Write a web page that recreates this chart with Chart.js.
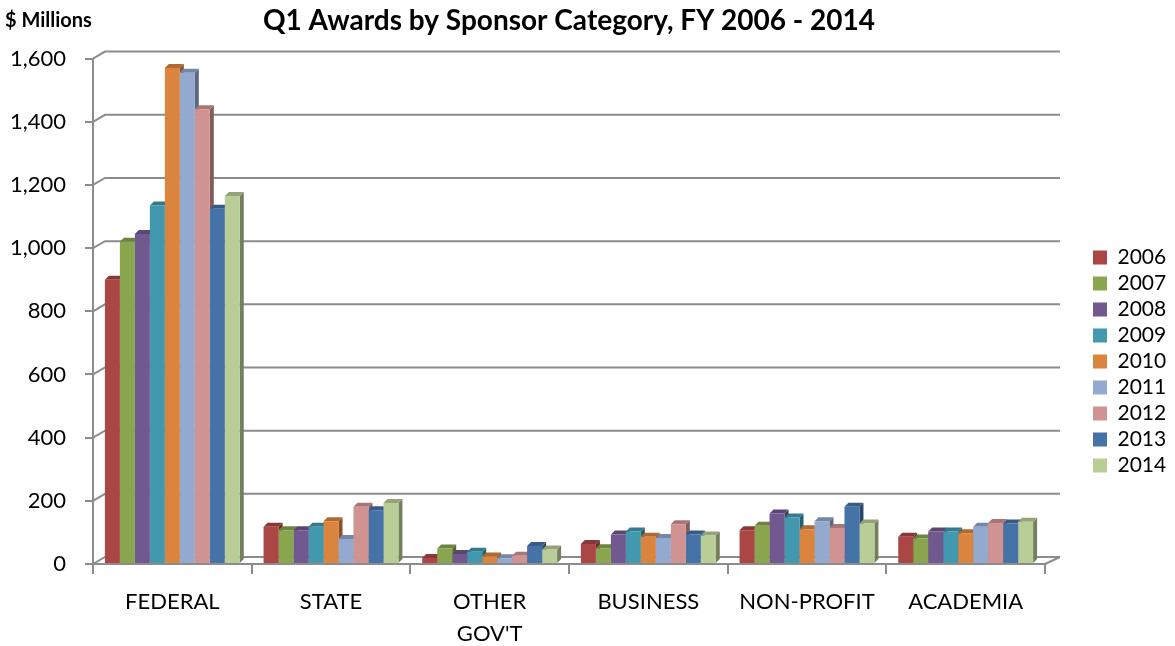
<!DOCTYPE html>
<html lang="en">
<head>
    <meta charset="UTF-8">
    <title>Q1 Awards by Sponsor Category</title>
    <script src="https://cdn.jsdelivr.net/npm/chart.js"></script>
    <style>
        body {
            margin: 0;
            background-color: #ffffff;
        }
        .chart-box {
            width: 1175px;
            height: 646px;
        }
    </style>
</head>
<body>
    <div class="chart-box">
        <canvas id="awardsChart"></canvas>
    </div>

    <script>
        const categories = ['FEDERAL', 'STATE', ['OTHER', "GOV'T"], 'BUSINESS', 'NON-PROFIT', 'ACADEMIA'];
        const years = ['2006', '2007', '2008', '2009', '2010', '2011', '2012', '2013', '2014'];
        const yTicks = [0, 200, 400, 600, 800, 1000, 1200, 1400, 1600];

        // $ millions, one array per fiscal year (same order as categories)
        const fy2006 = [900, 118, 19, 63, 107, 86];
        const fy2007 = [1020, 107, 49, 50, 121, 81];
        const fy2008 = [1045, 107, 32, 93, 160, 103];
        const fy2009 = [1135, 118, 39, 103, 147, 103];
        const fy2010 = [1570, 135, 24, 86, 110, 97];
        const fy2011 = [1555, 79, 18, 82, 135, 118];
        const fy2012 = [1440, 181, 26, 126, 114, 130];
        const fy2013 = [1125, 170, 57, 93, 181, 128];
        const fy2014 = [1165, 193, 46, 90, 128, 134];

        const yearValues = [fy2006, fy2007, fy2008, fy2009, fy2010, fy2011, fy2012, fy2013, fy2014];
        const yearColors = ['#AA4643', '#89A54E', '#71588F', '#4198AF', '#DB843D', '#93A9CF', '#D19392', '#4572A7', '#B9CD96'];

        const DX = 12, DY = 7;     // offset of the back wall
        const BX = 4, BY = 4;      // depth of each column
        const GRID = '#8c8c8c';

        function shade(hex, f) {
            const n = parseInt(hex.slice(1), 16);
            const r = Math.round(((n >> 16) & 255) * f);
            const g = Math.round(((n >> 8) & 255) * f);
            const b = Math.round((n & 255) * f);
            return 'rgb(' + r + ',' + g + ',' + b + ')';
        }

        // back wall gridlines + floor edge
        const wallPlugin = {
            id: 'wall3d',
            beforeDatasetsDraw(chart) {
                const ctx = chart.ctx;
                const a = chart.chartArea;
                const y = chart.scales.y;
                ctx.save();
                ctx.strokeStyle = GRID;
                ctx.lineWidth = 2;
                y.ticks.forEach(t => {
                    const py = y.getPixelForValue(t.value);
                    ctx.beginPath();
                    ctx.moveTo(a.left, py);
                    ctx.lineTo(a.left + DX, py - DY);
                    ctx.lineTo(a.right + DX + 3, py - DY);
                    ctx.stroke();
                });
                const p0 = y.getPixelForValue(0);
                ctx.beginPath();
                ctx.moveTo(a.right, p0);
                ctx.lineTo(a.right + DX + 3, p0 - DY);
                ctx.stroke();
                ctx.restore();
            }
        };

        // top and side faces of the columns
        const columnPlugin = {
            id: 'columns3d',
            beforeDatasetsDraw(chart) {
                const ctx = chart.ctx;
                ctx.save();
                chart.data.datasets.forEach((ds, i) => {
                    const col = yearColors[i];
                    chart.getDatasetMeta(i).data.forEach(bar => {
                        const l = bar.x - bar.width / 2;
                        const r = bar.x + bar.width / 2;
                        ctx.fillStyle = shade(col, 0.62);
                        ctx.beginPath();
                        ctx.moveTo(r, bar.y);
                        ctx.lineTo(r + BX, bar.y - BY);
                        ctx.lineTo(r + BX, bar.base - BY);
                        ctx.lineTo(r, bar.base);
                        ctx.closePath();
                        ctx.fill();
                        ctx.fillStyle = shade(col, 0.8);
                        ctx.beginPath();
                        ctx.moveTo(l, bar.y);
                        ctx.lineTo(r, bar.y);
                        ctx.lineTo(r + BX, bar.y - BY);
                        ctx.lineTo(l + BX, bar.y - BY);
                        ctx.closePath();
                        ctx.fill();
                    });
                });
                ctx.restore();
            }
        };

        const unitsPlugin = {
            id: 'unitsLabel',
            afterDraw(chart) {
                const ctx = chart.ctx;
                ctx.save();
                ctx.font = 'bold 20px Lato';
                ctx.fillStyle = '#000';
                ctx.textBaseline = 'middle';
                ctx.fillText('$ Millions', 5, 21);
                ctx.restore();
            }
        };

        const legendShift = {
            id: 'legendShift',
            beforeInit(chart) {
                const origFit = chart.legend.fit;
                chart.legend.fit = function () {
                    origFit.bind(chart.legend)();
                    this.width = 130;
                };
            },
            afterLayout(chart) {
                chart.legend.left += 43;
                chart.legend.right += 43;
            }
        };

        const ctx = document.getElementById('awardsChart').getContext('2d');

        const awardsChart = new Chart(ctx, {
            type: 'bar',
            data: {
                labels: categories,
                datasets: years.map((yr, i) => ({
                    label: yr,
                    data: yearValues[i],
                    backgroundColor: yearColors[i],
                    borderWidth: 0,
                    categoryPercentage: 0.85,
                    barPercentage: 1
                }))
            },
            options: {
                responsive: true,
                maintainAspectRatio: false,
                animation: false,
                layout: {
                    padding: { left: 0, right: 0, top: 0, bottom: 0 }
                },
                plugins: {
                    title: {
                        display: true,
                        text: 'Q1 Awards by Sponsor Category, FY 2006 - 2014',
                        fullSize: false,
                        color: '#000',
                        font: { family: 'Lato', size: 28, weight: 'bold', lineHeight: 1.2 },
                        padding: { top: 4, bottom: 21 }
                    },
                    legend: {
                        position: 'right',
                        align: 'start',
                        fullSize: false,
                        title: {
                            display: true,
                            text: '',
                            font: { size: 12 },
                            padding: { top: 169, bottom: 0 }
                        },
                        labels: {
                            boxWidth: 14,
                            boxHeight: 14,
                            padding: 5,
                            color: '#000',
                            font: { family: 'Lato', size: 21 }
                        }
                    },
                    tooltip: { enabled: false }
                },
                scales: {
                    x: {
                        afterFit(scale) { scale.height = 82; },
                        border: { display: true, color: GRID, width: 2 },
                        grid: {
                            display: true,
                            offset: true,
                            drawOnChartArea: false,
                            tickLength: 10,
                            color: GRID,
                            lineWidth: 2
                        },
                        ticks: {
                            color: '#000',
                            padding: 12,
                            maxRotation: 0,
                            font: { family: 'Lato', size: 22, lineHeight: 1.45 }
                        }
                    },
                    y: {
                        min: 0,
                        max: 1600,
                        afterFit(scale) { scale.width = 93; },
                        afterBuildTicks(scale) { scale.ticks = yTicks.map(v => ({ value: v })); },
                        border: { display: true, color: GRID, width: 2 },
                        grid: {
                            display: true,
                            drawOnChartArea: false,
                            tickLength: 8,
                            color: GRID,
                            lineWidth: 2
                        },
                        ticks: {
                            color: '#000',
                            padding: 19,
                            font: { family: 'Lato', size: 22 },
                            callback: v => v.toLocaleString('en-US')
                        }
                    }
                }
            },
            plugins: [legendShift, wallPlugin, columnPlugin, unitsPlugin]
        });
    </script>
</body>
</html>
